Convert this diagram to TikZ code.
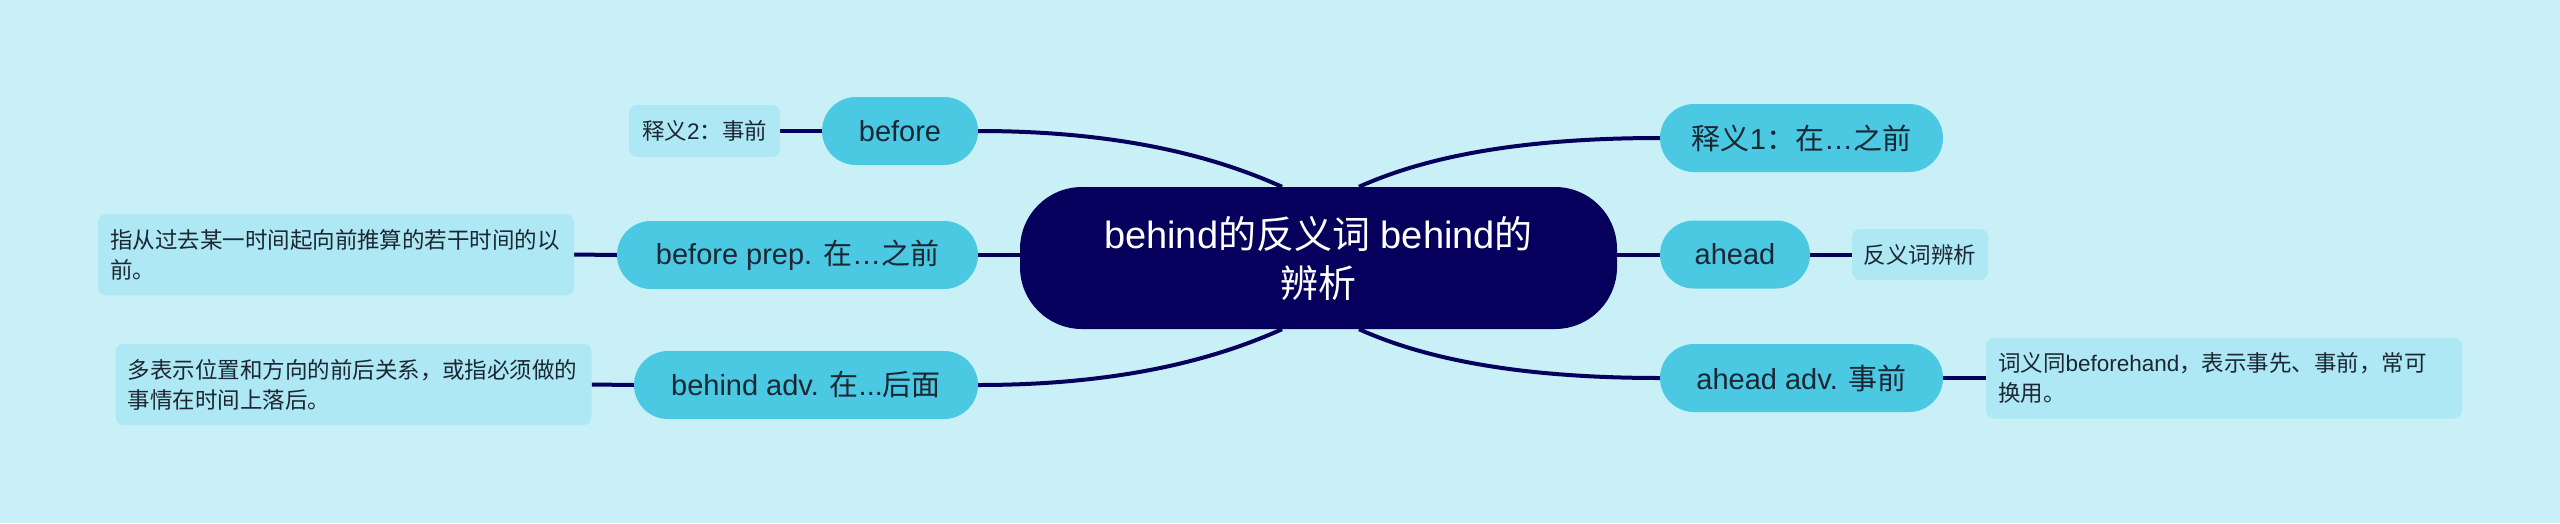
\documentclass[tikz,border=0pt]{standalone}
\usepackage{fontspec}
\setmainfont{Liberation Sans}
\newfontfamily\cjk{Noto Sans CJK SC}
\newcommand\zh[1]{{\cjk #1}}
\usetikzlibrary{calc,backgrounds}
\definecolor{bgc}{HTML}{C9F0F7}
\definecolor{pillc}{HTML}{4BC8E2}
\definecolor{notec}{HTML}{AEE8F4}
\definecolor{navy}{HTML}{04005C}
\definecolor{txtc}{HTML}{1B2733}
\begin{document}
\begin{tikzpicture}[x=1pt,y=-1pt,
  pill/.style={fill=pillc, rounded corners=34pt, minimum height=68pt, inner sep=0pt, text=txtc, font=\fontsize{29}{34}\selectfont},
  note/.style={fill=notec, rounded corners=8pt, inner sep=0pt, text=txtc, font=\fontsize{22.5}{30}\selectfont},
  longnote/.style={note, text width=452pt, align=left, inner xsep=12pt, minimum height=81pt},
  central/.style={fill=navy, rounded corners=62pt, minimum width=597pt, minimum height=142pt, text=white, align=center, font=\fontsize{38}{49}\selectfont},
  link/.style={draw=navy, line width=4pt}]
\useasboundingbox (0,0) rectangle (2560,523);

% central
\node[central] (c) at (1318.5,258) {behind\zh{的反义词} behind\zh{的}\\\zh{辨析}};

% left side
\node[pill, minimum width=156pt] (b1) at (900,131) {before};
\node[pill, minimum width=361pt] (b2) at (797.5,255) {before prep. \zh{在}…\zh{之前}};
\node[pill, minimum width=344pt] (b3) at (806,385) {behind adv. \zh{在}...\zh{后面}};
\node[note, minimum width=151pt, minimum height=52pt] (n1) at (704.5,131) {\zh{释义}2\zh{：事前}};
\node[longnote] (n2) at (336,254.5) {\zh{指从过去某一时间起向前推算的若干时间的以}\\\zh{前。}};
\node[longnote] (n3) at (353.5,384.5) {\zh{多表示位置和方向的前后关系，或指必须做的}\\\zh{事情在时间上落后。}};

% right side
\node[pill, minimum width=283pt] (a1) at (1801.5,138) {\zh{释义}1\zh{：在}…\zh{之前}};
\node[pill, minimum width=150pt] (a2) at (1735,254.5) {ahead};
\node[pill, minimum width=283pt] (a3) at (1801.5,378) {ahead adv. \zh{事前}};
\node[note, minimum width=136pt, minimum height=51pt] (n4) at (1920,254.5) {\zh{反义词辨析}};
\node[longnote] (n5) at (2224,378) {\zh{词义同}beforehand\zh{，表示事先、事前，常可}\\\zh{换用。}};

\coordinate (cTL) at ([xshift=-36.5pt]c.north);
\coordinate (cTR) at ([xshift=40.5pt]c.north);
\coordinate (cBL) at ([xshift=-36.5pt]c.south);
\coordinate (cBR) at ([xshift=40.5pt]c.south);

\begin{pgfonlayer}{background}
\fill[bgc] (0,0) rectangle (2560,523);
\draw[link] (n1.east) -- (b1.west);
\draw[link] (b1.east) .. controls +(150,0) and +(-60,-27) .. (cTL);
\draw[link] (n2.east) -- (b2.west);
\draw[link] (b2.east) -- (b2.east -| c.west);
\draw[link] (n3.east) -- (b3.west);
\draw[link] (b3.east) .. controls +(150,0) and +(-60,27) .. (cBL);
\draw[link] (cTR) .. controls +(60,-27) and +(-150,0) .. (a1.west);
\draw[link] (c.east |- a2.west) -- (a2.west);
\draw[link] (a2.east) -- (n4.west);
\draw[link] (cBR) .. controls +(60,27) and +(-150,0) .. (a3.west);
\draw[link] (a3.east) -- (n5.west);
\end{pgfonlayer}
\end{tikzpicture}
\end{document}
